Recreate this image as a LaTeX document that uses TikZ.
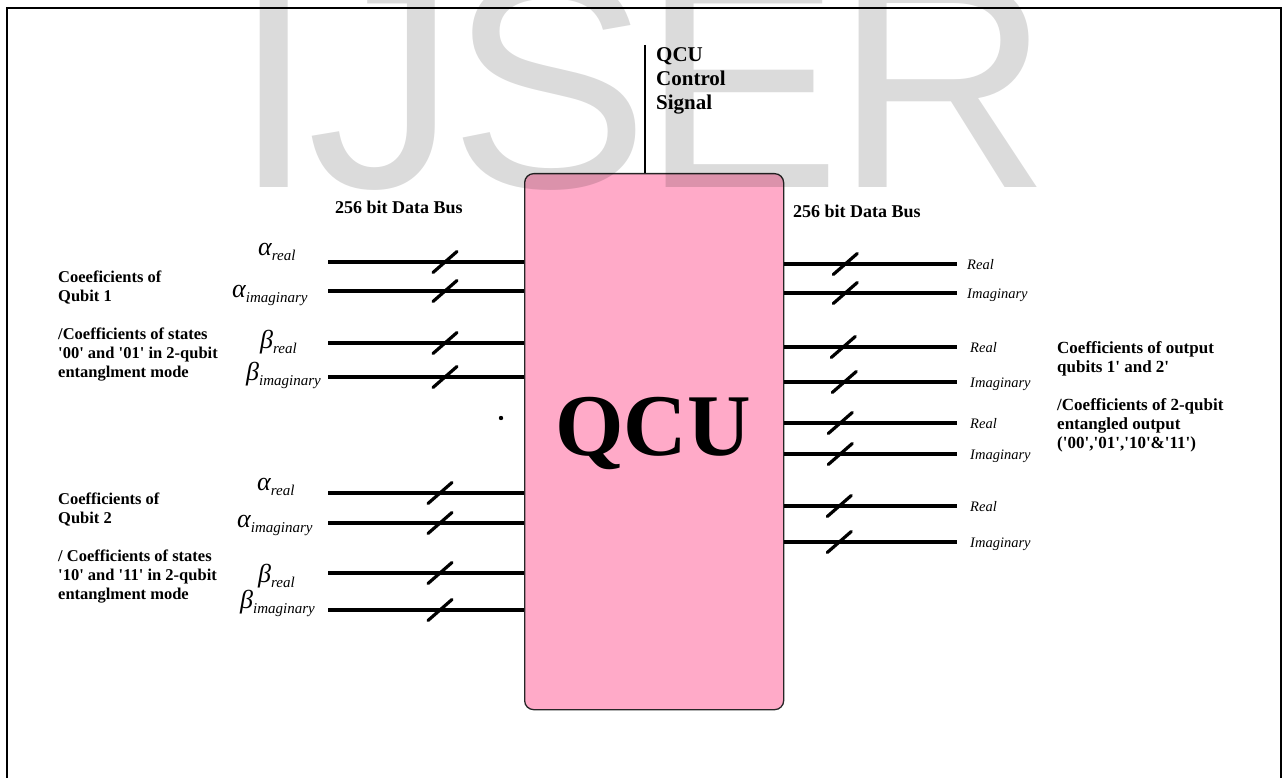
\documentclass[tikz,border=0pt]{standalone}
\usepackage{fontspec}
\setmainfont{Liberation Serif}
\newfontfamily\wmfont{Liberation Sans}
\usetikzlibrary{calc}
\definecolor{qpink}{RGB}{255,170,200}
\newcommand{\qsq}{\textquotesingle}
\newcommand{\glab}[2]{{\fontsize{26}{26}\selectfont\itshape #1}\raisebox{-5pt}{\fontsize{15}{15}\selectfont\itshape #2}}
\begin{document}
\begin{tikzpicture}[x=1pt,y=-1pt,
  bus/.style={line width=3.6pt},
  slashmark/.style={line width=3.2pt,line cap=round},
  glabel/.style={anchor=base west,inner sep=0pt},
  olabel/.style={anchor=base west,inner sep=0pt,font=\fontsize{14.5}{14.5}\selectfont\itshape},
  desc/.style={anchor=north west,inner sep=0pt,align=left,font=\fontsize{16.5}{19}\selectfont\bfseries},
  rdesc/.style={anchor=north west,inner sep=0pt,align=left,font=\fontsize{17}{19}\selectfont\bfseries},
  buslabel/.style={anchor=base west,inner sep=0pt,font=\fontsize{18}{18}\selectfont\bfseries}
]
\useasboundingbox (0,0) rectangle (1284,778);
% frame
\draw[line width=2pt] (7,790) -- (7,8) -- (1281,8) -- (1281,790);

% QCU box
\node[draw=black!85,line width=1.3pt,fill=qpink,rounded corners=9pt,
      minimum width=259pt,minimum height=536pt,inner sep=0pt,anchor=north west] (qcu) at (524,173) {};
\node[anchor=base,inner sep=0pt,font=\fontsize{88}{88}\selectfont\bfseries] (qcutext) at (653,455) {QCU};

% control signal
\coordinate (ctl) at (645,45);
\draw[line width=1.6pt] (ctl) -- (ctl |- qcu.north);
\node[anchor=north west,inner sep=0pt,align=left,font=\fontsize{21}{24}\selectfont\bfseries] (ctltext) at (656,47) {QCU\\Control\\Signal};

% bus labels
\node[buslabel] (busl) at (335,214) {256 bit Data Bus};
\node[buslabel] (busr) at (793,218) {256 bit Data Bus};

% input lines
\foreach \n/\y/\s in {1/262/117,2/291/117,3/343/117,4/377/117,5/493/112,6/523/112,7/573/112,8/610/112}{
  \coordinate (i\n) at (328,\y);
  \draw[bus] (i\n) -- (i\n -| qcu.west);
  \draw[slashmark] ($(i\n)+(\s,0)+(-12,10.5)$) -- ($(i\n)+(\s,0)+(12,-10.5)$);
}
% input labels
\node[glabel] (la1) at (258,255) {\glab{α}{real}};
\node[glabel] (la2) at (232,297) {\glab{α}{imaginary}};
\node[glabel] (la3) at (260,348) {\glab{β}{real}};
\node[glabel] (la4) at (246,380) {\glab{β}{imaginary}};
\node[glabel] (la5) at (257,490) {\glab{α}{real}};
\node[glabel] (la6) at (237,527) {\glab{α}{imaginary}};
\node[glabel] (la7) at (258,582) {\glab{β}{real}};
\node[glabel] (la8) at (240,608) {\glab{β}{imaginary}};

% output lines
\foreach \n/\y/\s in {1/264/61,2/293/61,3/347/59,4/382/60,5/423/56,6/454/56,7/506/55,8/542/55}{
  \coordinate (o\n) at (957,\y);
  \draw[bus] (o\n -| qcu.east) -- (o\n);
  \draw[slashmark] ($(o\n -| qcu.east)+(\s,0)+(-12,10.5)$) -- ($(o\n -| qcu.east)+(\s,0)+(12,-10.5)$);
}
\node[olabel] (lo1) at (967,269) {Real};
\node[olabel] (lo2) at (967,298) {Imaginary};
\node[olabel] (lo3) at (970,352) {Real};
\node[olabel] (lo4) at (970,387) {Imaginary};
\node[olabel] (lo5) at (970,428) {Real};
\node[olabel] (lo6) at (970,459) {Imaginary};
\node[olabel] (lo7) at (970,511) {Real};
\node[olabel] (lo8) at (970,547) {Imaginary};

% descriptions
\node[desc] (q1) at (58,271) {Coeeficients of\\Qubit 1\\[19pt]/Coefficients of states\\\qsq 00\qsq{} and \qsq 01\qsq{} in 2-qubit\\entanglment mode};
\node[desc] (q2) at (58,493) {Coefficients of\\Qubit 2\\[19pt]/ Coefficients of states\\\qsq 10\qsq{} and \qsq 11\qsq{} in 2-qubit\\entanglment mode};
\node[rdesc] (qo) at (1057,341) {Coefficients of output\\qubits 1\qsq{} and 2\qsq\\[19pt]/Coefficients of 2-qubit\\entangled output\\(\qsq 00\qsq,\qsq 01\qsq,\qsq 10\qsq\&\qsq 11\qsq)};

% dot
\fill (501,418) circle (2.2);

% watermark
\node[anchor=base west,inner sep=0pt,font=\wmfont\fontsize{300}{300}\selectfont,text=black,text opacity=0.14] (wm) at (232,188) {I\kern-8pt J\kern-8pt S\kern-8pt E\kern-8pt R};
\end{tikzpicture}
\end{document}
